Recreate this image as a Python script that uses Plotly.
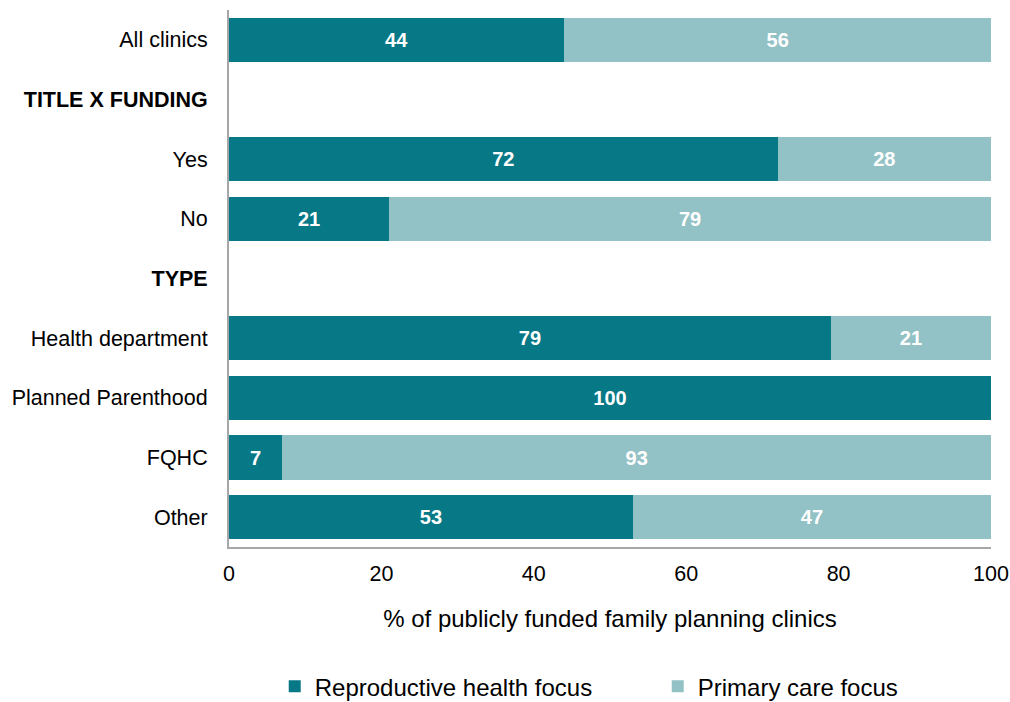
import plotly.graph_objects as go

categories = ["All clinics", "<b>TITLE X FUNDING</b>", "Yes", "No", "<b>TYPE</b>",
              "Health department", "Planned Parenthood", "FQHC", "Other"]
repro = [44, None, 72, 21, None, 79, 100, 7, 53]
primary = [56, None, 28, 79, None, 21, 0, 93, 47]
x_ticks = [0, 20, 40, 60, 80, 100]

dark = "#077886"
light = "#93c2c6"

def labels(vals):
    return ["" if (v is None or v == 0) else "<b>%d</b>" % v for v in vals]

fig = go.Figure()
for vals, name, col in [(repro, "Reproductive health focus", dark),
                        (primary, "Primary care focus", light)]:
    fig.add_trace(go.Bar(
        y=categories, x=vals, orientation="h", name=name,
        marker=dict(color=col, line=dict(width=0)),
        text=labels(vals), textposition="inside", insidetextanchor="middle",
        textfont=dict(color="white", size=20, family="Liberation Sans"),
        width=0.74, cliponaxis=False,
    ))

fig.update_layout(
    barmode="stack",
    width=1010, height=702,
    margin=dict(l=229, r=19, t=10, b=155, autoexpand=False),
    paper_bgcolor="white", plot_bgcolor="white",
    font=dict(family="Liberation Sans", size=21.5, color="black"),
    uniformtext=dict(mode="show", minsize=10),
    xaxis=dict(
        range=[0, 100], tickvals=x_ticks, showgrid=False, zeroline=False,
        showline=True, linecolor="#a6a6a6", linewidth=2, ticks="",
        ticklabelstandoff=6,
        title=dict(text="% of publicly funded family planning clinics", standoff=25,
                   font=dict(size=24)),
        tickfont=dict(size=21.5),
    ),
    yaxis=dict(
        autorange="reversed", showgrid=False, zeroline=False,
        showline=True, linecolor="#a6a6a6", linewidth=2, ticks="",
        ticklabelstandoff=15, tickfont=dict(size=21.5),
    ),
    legend=dict(
        orientation="h", xref="container", yref="container",
        x=0.272, xanchor="left", y=0.022, yanchor="middle",
        font=dict(size=24), entrywidth=338, entrywidthmode="pixels",
        itemwidth=30, traceorder="normal",
    ),
    bargap=0.26,
)

fig.write_html("out.html")
